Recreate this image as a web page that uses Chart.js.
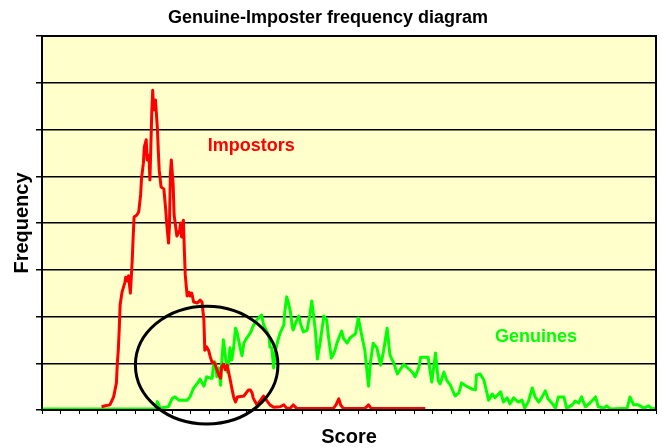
<!DOCTYPE html>
<html>
<head>
    <title>Genuine-Imposter frequency diagram</title>
    <script src="https://cdn.jsdelivr.net/npm/chart.js"></script>
    <style>
        body {
            margin: 0;
            background: #ffffff;
        }

        #wrap {
            width: 663px;
            height: 448px;
        }
    </style>
</head>
<body>
    <div id="wrap">
        <canvas id="freqChart"></canvas>
    </div>

    <script>
        // Impostor scores (x) and frequencies (y)
        var impostorScores = [
            64, 68, 73, 77, 80, 81, 82, 83, 84, 86,
            89, 90, 92, 93, 95, 96, 97, 98, 99, 102,
            104, 106, 107, 109, 110, 112, 113, 115, 116, 117,
            118, 119, 120, 122, 124, 125, 126, 128, 131, 133,
            134, 136, 137, 138, 139, 141, 142, 145, 148, 149,
            150, 152, 153, 154, 156, 158, 159, 161, 163, 167,
            170, 172, 174, 175, 177, 179, 181, 183, 184, 186,
            188, 190, 192, 193, 195, 197, 199, 202, 204, 206,
            208, 210, 217, 222, 224, 226, 227, 231, 235, 238,
            242, 245, 249, 256, 260, 263, 267, 270, 274, 313,
            316, 319, 321, 324, 347, 351, 354, 412
        ];
        var impostorFreq = [
            0.7, 0.9, 1.1, 2.8, 5.8, 10.1, 12.8, 17.1, 22.5, 25.2,
            27.2, 28.4, 27.6, 28.7, 25.0, 28.4, 32.1, 37.0, 41.3, 41.7,
            42.4, 46.0, 49.6, 52.8, 56.3, 57.8, 53.5, 54.5, 49.2, 56.3,
            63.7, 68.4, 64.2, 66.3, 60.3, 55.6, 51.3, 47.7, 47.3, 42.8,
            40.0, 35.7, 39.4, 50.3, 53.5, 48.1, 41.7, 37.2, 38.5, 40.0,
            37.0, 40.6, 34.2, 28.9, 24.4, 25.2, 24.4, 25.0, 23.1, 22.9,
            23.5, 23.1, 19.3, 12.8, 13.5, 12.8, 11.3, 10.1, 10.3, 9.8,
            8.6, 7.5, 6.8, 9.2, 9.8, 8.6, 9.6, 6.8, 4.7, 2.8,
            1.7, 2.8, 3.0, 4.3, 4.3, 3.6, 2.6, 1.1, 2.1, 3.0,
            1.9, 1.1, 0.6, 0.7, 1.1, 0.4, 0.4, 1.1, 0.3, 0.3,
            1.1, 2.4, 1.1, 0.3, 0.3, 1.1, 0.3, 0.3
        ];

        // Genuine scores (x) and frequencies (y)
        var genuineScores = [
            0, 122, 124, 127, 136, 140, 143, 147, 156, 159,
            163, 167, 170, 174, 177, 181, 183, 184, 186, 188,
            190, 192, 193, 195, 197, 199, 201, 202, 204, 206,
            208, 210, 213, 215, 217, 220, 224, 227, 231, 235,
            236, 238, 240, 244, 245, 247, 249, 251, 254, 256,
            260, 261, 263, 265, 267, 269, 270, 273, 276, 278,
            281, 285, 288, 290, 292, 294, 296, 299, 303, 306,
            308, 311, 313, 315, 317, 322, 324, 328, 331, 337,
            340, 344, 347, 351, 353, 356, 360, 364, 367, 371,
            374, 378, 382, 385, 389, 392, 398, 401, 405, 407,
            412, 415, 419, 423, 426, 428, 432, 435, 439, 444,
            448, 451, 457, 462, 466, 467, 471, 475, 478, 480,
            484, 487, 493, 496, 500, 503, 507, 512, 516, 519,
            523, 527, 530, 534, 537, 541, 544, 548, 552, 555,
            561, 564, 570, 573, 577, 580, 584, 589, 595, 598,
            604, 607, 611, 629, 632, 636, 641, 647, 652, 656,
            660
        ];
        var genuineFreq = [
            0.2, 0.2, 1.8, 0.4, 0.7, 2.5, 2.8, 2.1, 2.1, 2.8,
            4.7, 5.7, 6.6, 5.1, 7.1, 6.8, 6.8, 9.2, 10.3, 7.1,
            9.0, 5.3, 9.6, 15.0, 11.8, 8.1, 10.7, 13.3, 10.7, 13.3,
            17.5, 16.3, 13.3, 11.6, 14.3, 15.4, 16.5, 18.0, 19.3, 20.1,
            20.3, 18.4, 17.5, 15.8, 13.5, 13.3, 9.0, 12.8, 15.2, 16.5,
            18.2, 21.0, 24.2, 22.9, 21.0, 17.8, 17.1, 18.8, 20.1, 18.4,
            16.7, 17.1, 20.5, 23.3, 20.1, 16.7, 10.9, 14.5, 20.1, 19.3,
            15.6, 11.1, 11.8, 12.8, 14.3, 16.9, 15.4, 14.3, 15.4, 16.3,
            19.7, 15.6, 12.8, 5.1, 10.1, 14.3, 13.3, 9.6, 12.4, 17.5,
            11.8, 10.1, 7.7, 8.6, 9.8, 9.2, 8.1, 7.1, 9.0, 11.3,
            11.3, 11.3, 6.0, 12.2, 6.2, 5.6, 8.1, 6.4, 5.3, 3.0,
            3.6, 5.8, 5.0, 4.5, 4.3, 7.5, 7.7, 6.4, 3.9, 2.1,
            3.4, 2.6, 3.9, 1.7, 2.6, 1.3, 2.6, 1.7, 2.1, 0.4,
            1.9, 4.7, 2.8, 1.7, 2.6, 4.1, 2.4, 1.5, 0.4, 2.8,
            2.8, 0.4, 1.1, 1.9, 1.5, 2.8, 0.7, 1.5, 2.8, 0.7,
            0.4, 0.9, 0.2, 0.4, 2.8, 1.1, 1.1, 0.4, 0.9, 0.2,
            0.4
        ];

        // axis range: score 0..660 (tick every 20), frequency 0..80 (grid every 10)
        var scoreMax = 660;
        var scoreStep = 20;
        var freqMax = 80;
        var freqStep = 10;

        // text labels and the overlap ellipse, in data units
        var seriesLabels = [
            {text: 'Impostors', score: 225, freq: 56.5, color: '#ff0000'},
            {text: 'Genuines', score: 531, freq: 15.6, color: '#00ff00'}
        ];
        var overlapEllipse = {score: 177, freq: 9.6, halfScore: 76.6, halfFreq: 12.6};

        var fontFamily = "'Liberation Sans', Arial, sans-serif";

        function toPoints(xs, ys) {
            return xs.map(function (x, i) { return {x: x, y: ys[i]}; });
        }

        // fills the plot area pale yellow, draws the frame, labels and the ellipse
        var decorations = {
            id: 'decorations',
            beforeDraw: function (chart) {
                var ctx = chart.ctx, a = chart.chartArea;
                ctx.save();
                ctx.fillStyle = '#ffffff';
                ctx.fillRect(0, 0, chart.width, chart.height);
                ctx.fillStyle = '#ffffcc';
                ctx.fillRect(a.left, a.top, a.right - a.left, a.bottom - a.top);
                ctx.restore();
            },
            afterDatasetsDraw: function (chart) {
                var ctx = chart.ctx, a = chart.chartArea;
                var xs = chart.scales.x, ys = chart.scales.y;
                ctx.save();
                ctx.strokeStyle = '#000000';
                ctx.lineWidth = 2;
                ctx.strokeRect(a.left, a.top, a.right - a.left, a.bottom - a.top);

                ctx.font = 'bold 18px ' + fontFamily;
                ctx.textAlign = 'center';
                ctx.textBaseline = 'middle';
                seriesLabels.forEach(function (l) {
                    ctx.fillStyle = l.color;
                    ctx.fillText(l.text, xs.getPixelForValue(l.score), ys.getPixelForValue(l.freq));
                });

                var cx = xs.getPixelForValue(overlapEllipse.score);
                var cy = ys.getPixelForValue(overlapEllipse.freq);
                var rx = xs.getPixelForValue(overlapEllipse.score + overlapEllipse.halfScore) - cx;
                var ry = cy - ys.getPixelForValue(overlapEllipse.freq + overlapEllipse.halfFreq);
                ctx.beginPath();
                ctx.ellipse(cx, cy, rx, ry, 0, 0, Math.PI * 2);
                ctx.lineWidth = 3;
                ctx.strokeStyle = '#000000';
                ctx.stroke();
                ctx.restore();
            }
        };

        var ctx = document.getElementById('freqChart').getContext('2d');
        new Chart(ctx, {
            type: 'line',
            data: {
                datasets: [
                    {
                        label: 'Impostors',
                        data: toPoints(impostorScores, impostorFreq),
                        borderColor: '#ff0000',
                        borderWidth: 3,
                        borderJoinStyle: 'round',
                        pointRadius: 0,
                        tension: 0
                    },
                    {
                        label: 'Genuines',
                        data: toPoints(genuineScores, genuineFreq),
                        borderColor: '#00ff00',
                        borderWidth: 3,
                        borderJoinStyle: 'round',
                        pointRadius: 0,
                        tension: 0
                    }
                ]
            },
            options: {
                responsive: true,
                maintainAspectRatio: false,
                animation: false,
                layout: {
                    padding: {left: 0, top: 0, right: 7, bottom: 0}
                },
                plugins: {
                    legend: {display: false},
                    tooltip: {enabled: false},
                    title: {
                        display: true,
                        text: 'Genuine-Imposter frequency diagram',
                        color: '#000000',
                        font: {family: fontFamily, size: 18, weight: 'bold', lineHeight: 1},
                        padding: {top: 9, bottom: 9}
                    }
                },
                scales: {
                    x: {
                        type: 'linear',
                        min: 0,
                        max: scoreMax,
                        ticks: {display: false, stepSize: scoreStep},
                        grid: {
                            drawOnChartArea: false,
                            drawTicks: true,
                            tickLength: 4,
                            color: '#000000',
                            lineWidth: 1
                        },
                        border: {display: true, color: '#000000', width: 2},
                        title: {
                            display: true,
                            text: 'Score',
                            color: '#000000',
                            font: {family: fontFamily, size: 20, weight: 'bold', lineHeight: 1.1},
                            padding: {top: 0, bottom: 0}
                        },
                        afterFit: function (s) { s.height = 38; }
                    },
                    y: {
                        min: 0,
                        max: freqMax,
                        ticks: {display: false, stepSize: freqStep},
                        grid: {
                            drawTicks: true,
                            tickLength: 6,
                            color: '#000000',
                            lineWidth: 1.5
                        },
                        border: {display: true, color: '#000000', width: 2},
                        title: {
                            display: true,
                            text: 'Frequency',
                            color: '#000000',
                            font: {family: fontFamily, size: 20, weight: 'bold', lineHeight: 1.1},
                            padding: {top: 11, bottom: 0}
                        },
                        afterFit: function (s) { s.width = 42; }
                    }
                }
            },
            plugins: [decorations]
        });
    </script>
</body>
</html>
